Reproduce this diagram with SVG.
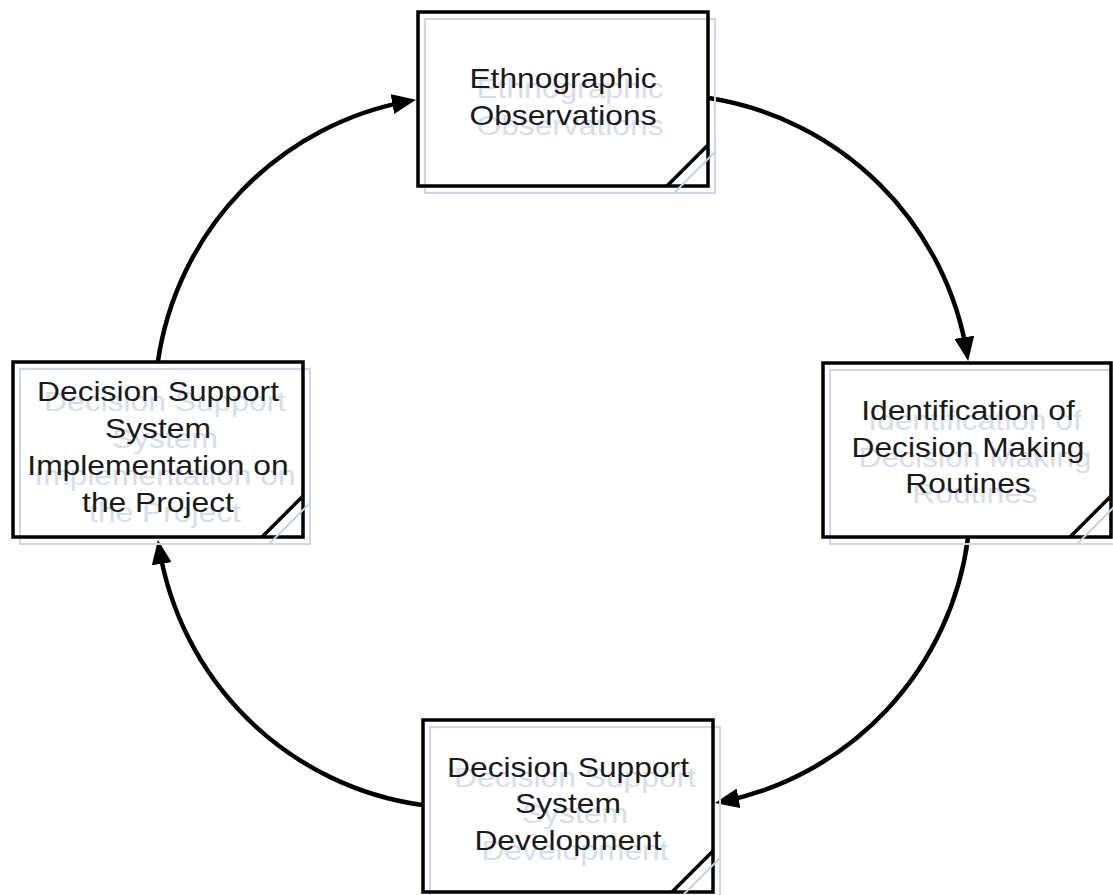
<svg xmlns="http://www.w3.org/2000/svg" width="1113" height="895" viewBox="0 0 1113 895">
<style>
.bg{fill:#ffffff;stroke:none}
.ref{fill:none;stroke:#cdd6ea;stroke-width:2}
.box{fill:none;stroke:#000000;stroke-width:3.5}
.fold{stroke:#000000;stroke-width:3.5;fill:none}
.rfold{stroke:#c6d1e6;stroke-width:2;fill:none}
.t{font-family:"Liberation Sans",Arial,sans-serif;font-size:28px;text-anchor:middle;fill:#1a1a1a}
.g{font-family:"Liberation Sans",Arial,sans-serif;font-size:28px;text-anchor:middle;fill:#d6dded}
.c{fill:none;stroke:#000000;stroke-width:4.5;marker-end:url(#ah)}
</style>
<defs>
<marker id="ah" markerUnits="userSpaceOnUse" markerWidth="24" markerHeight="20" refX="18" refY="10" orient="auto">
<path d="M0,0 L24,10 L0,20 z" fill="#000000"/>
</marker>
</defs>
<rect width="1113" height="895" fill="#ffffff"/>

<g id="connectors">
<path class="c" d="M709,98 A310,310 0 0 1 967.2,355"/>
<path class="c" d="M968,538 A310,310 0 0 1 720.9,801.9"/>
<path class="c" d="M422,805 A310,310 0 0 1 158.9,546"/>
<path class="c" d="M158,361 A310,310 0 0 1 410.1,100.9"/>
</g>

<g id="node-ethnographic">
<rect class="bg" x="418" y="12" width="290" height="174"/>
<rect class="ref" x="425" y="19" width="290" height="174"/>
<text class="g" transform="translate(570 10) scale(1.135 1)"><tspan x="0" y="88">Ethnographic</tspan><tspan x="0" y="125">Observations</tspan></text>
<rect class="box" x="418" y="12" width="290" height="174"/>
<text class="t" transform="translate(563 0) scale(1.135 1)"><tspan x="0" y="88">Ethnographic</tspan><tspan x="0" y="125">Observations</tspan></text>
<line class="rfold" x1="674" y1="193" x2="715" y2="152"/>
<line class="fold" x1="667" y1="186" x2="708" y2="145"/>
</g>

<g id="node-identification">
<rect class="bg" x="823" y="363" width="288" height="174"/>
<rect class="ref" x="830" y="370" width="288" height="174"/>
<text class="g" transform="translate(975 10) scale(1.135 1)"><tspan x="0" y="420">Identification of</tspan><tspan x="0" y="457">Decision Making</tspan><tspan x="0" y="493">Routines</tspan></text>
<rect class="box" x="823" y="363" width="288" height="174"/>
<text class="t" transform="translate(968 0) scale(1.135 1)"><tspan x="0" y="420">Identification of</tspan><tspan x="0" y="457">Decision Making</tspan><tspan x="0" y="493">Routines</tspan></text>
<line class="rfold" x1="1077" y1="544" x2="1118" y2="503"/>
<line class="fold" x1="1070" y1="537" x2="1111" y2="496"/>
</g>

<g id="node-development">
<rect class="bg" x="423" y="720" width="290" height="172"/>
<rect class="ref" x="430" y="727" width="290" height="172"/>
<text class="g" transform="translate(575 10) scale(1.135 1)"><tspan x="0" y="777">Decision Support</tspan><tspan x="0" y="813">System</tspan><tspan x="0" y="850">Development</tspan></text>
<rect class="box" x="423" y="720" width="290" height="172"/>
<text class="t" transform="translate(568 0) scale(1.135 1)"><tspan x="0" y="777">Decision Support</tspan><tspan x="0" y="813">System</tspan><tspan x="0" y="850">Development</tspan></text>
<line class="rfold" x1="679" y1="899" x2="720" y2="858"/>
<line class="fold" x1="672" y1="892" x2="713" y2="851"/>
</g>

<g id="node-implementation">
<rect class="bg" x="13" y="362" width="290" height="175"/>
<rect class="ref" x="20" y="369" width="290" height="175"/>
<text class="g" transform="translate(165 10) scale(1.135 1)"><tspan x="0" y="401">Decision Support</tspan><tspan x="0" y="438">System</tspan><tspan x="0" y="475">Implementation on</tspan><tspan x="0" y="512">the Project</tspan></text>
<rect class="box" x="13" y="362" width="290" height="175"/>
<text class="t" transform="translate(158 0) scale(1.135 1)"><tspan x="0" y="401">Decision Support</tspan><tspan x="0" y="438">System</tspan><tspan x="0" y="475">Implementation on</tspan><tspan x="0" y="512">the Project</tspan></text>
<line class="rfold" x1="269" y1="544" x2="310" y2="503"/>
<line class="fold" x1="262" y1="537" x2="303" y2="496"/>
</g>
</svg>
